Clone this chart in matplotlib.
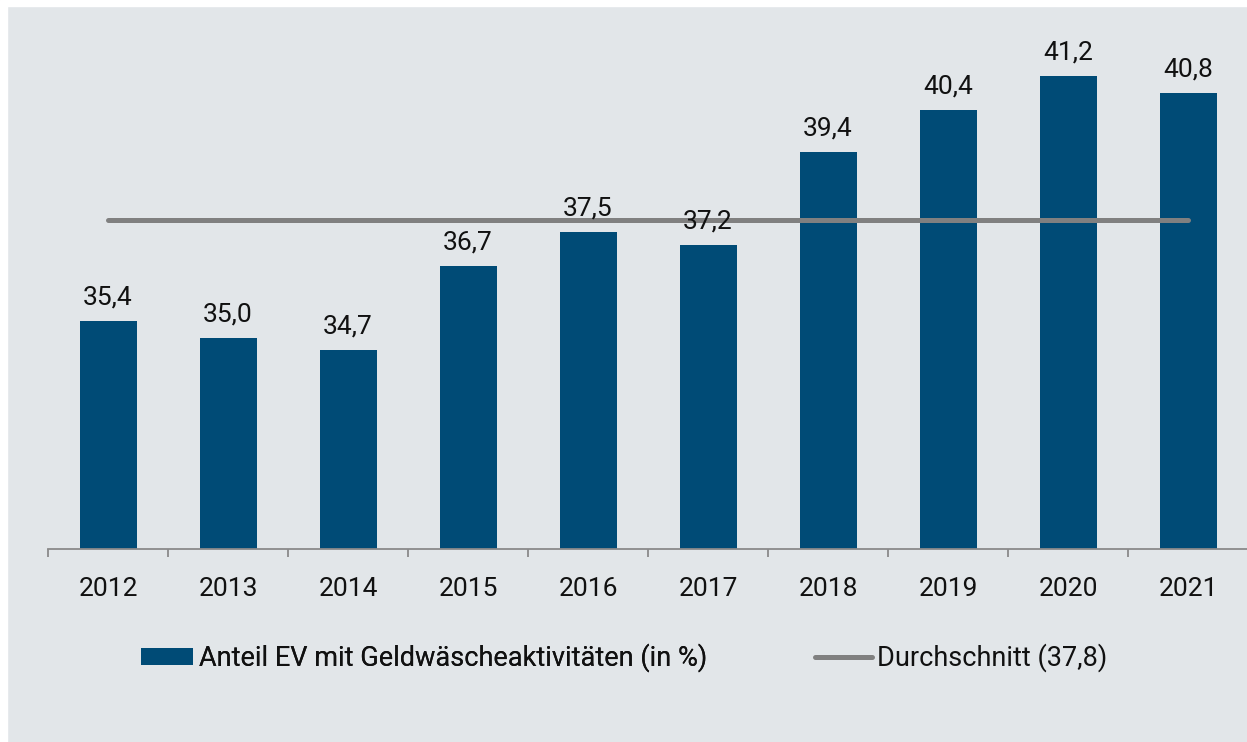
import matplotlib
matplotlib.use("Agg")
import matplotlib.pyplot as plt
from matplotlib.patches import Patch, Rectangle
from matplotlib.lines import Line2D

years = ["2012", "2013", "2014", "2015", "2016", "2017", "2018", "2019", "2020", "2021"]
values = [35.4, 35.0, 34.7, 36.7, 37.5, 37.2, 39.4, 40.4, 41.2, 40.8]
average = 37.8
bar_label = "Anteil EV mit Geldwäscheaktivitäten (in %)"
avg_label = "Durchschnitt (37,8)"

BG = "#E2E6E9"
BAR = "#004B76"
LINE = "#808080"
TXT = "#111111"
FONT = "Roboto"
FS = 19
LFS = 19.5

plt.rcParams['font.family'] = [FONT, 'DejaVu Sans']

W, H = 1247, 742
fig = plt.figure(figsize=(W / 100, H / 100), dpi=100, facecolor=BG)
# white margins top/left
fig.patches.append(Rectangle((0, 1 - 6 / H), 1, 6 / H, transform=fig.transFigure, color="white", zorder=-1))
fig.patches.append(Rectangle((0, 0), 7 / W, 1, transform=fig.transFigure, color="white", zorder=-1))

ax = fig.add_axes([48 / W, (H - 549) / H, 1200 / W, 543 / H])
ax.set_facecolor("none")
ymin = 30
ax.set_ylim(ymin, ymin + 543 / 42.24)
ax.set_xlim(-0.5, len(years) - 0.5)

x = list(range(len(years)))
ax.bar(x, [v - ymin for v in values], bottom=ymin, width=0.475, color=BAR, zorder=2)
ax.plot([x[0], x[-1]], [average, average], color=LINE, lw=3.6, solid_capstyle="round", zorder=3)

for xi, v in zip(x, values):
    ax.annotate(f"{v:.1f}".replace(".", ","), (xi, v), xytext=(0, 12), textcoords="offset points",
                ha="center", va="baseline", fontsize=FS, color=TXT)

for s in ["top", "right", "left"]:
    ax.spines[s].set_visible(False)
ax.spines["bottom"].set_color("#8a8a8a")
ax.spines["bottom"].set_linewidth(1.3)
ax.set_yticks([])
ax.set_xticks([i - 0.5 for i in range(len(years))])
ax.set_xticklabels([])
ax.tick_params(axis="x", which="major", length=6, width=1.3, color="#8a8a8a", direction="out")
ax.set_xticks(x, minor=True)
ax.set_xticklabels(years, minor=True)
ax.tick_params(axis="x", which="minor", length=0, pad=20.5, labelsize=FS, labelcolor=TXT)

fs_px = LFS * 100 / 72
leg1 = fig.legend(handles=[Patch(facecolor=BAR, edgecolor="none")], labels=[bar_label],
                  loc="center left", bbox_to_anchor=(141 / W, (H - 658) / H), frameon=False,
                  fontsize=LFS, handlelength=52 / fs_px, handleheight=16 / fs_px,
                  handletextpad=6 / fs_px, borderpad=0, borderaxespad=0, labelcolor=TXT)
leg2 = fig.legend(handles=[Line2D([], [], color=LINE, lw=3.6, solid_capstyle="round")], labels=[avg_label],
                  loc="center left", bbox_to_anchor=(815 / W, (H - 658) / H), frameon=False,
                  fontsize=LFS, handlelength=57 / fs_px,
                  handletextpad=5 / fs_px, borderpad=0, borderaxespad=0, labelcolor=TXT)
fig.add_artist(leg1)

fig.savefig("out.png", dpi=100, facecolor=BG)
